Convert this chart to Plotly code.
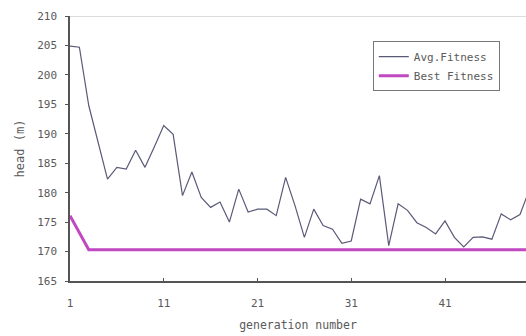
import plotly.graph_objects as go

generations = list(range(1, 51))
avg_fitness = [
    204.9, 204.7, 194.8, 188.3, 182.3, 184.3, 184.0, 187.2, 184.3, 187.8,
    191.4, 189.9, 179.5, 183.5, 179.2, 177.5, 178.4, 175.0, 180.6, 176.7,
    177.2, 177.2, 176.1, 182.6, 177.8, 172.4, 177.2, 174.4, 173.8, 171.4,
    171.8, 178.9, 178.1, 182.9, 171.0, 178.1, 177.0, 174.9, 174.1, 173.0,
    175.2, 172.4, 170.8, 172.4, 172.5, 172.1, 176.4, 175.4, 176.3, 180.5,
]
best_fitness = [176.1, 173.2] + [170.3] * 48

y_ticks = [165, 170, 175, 180, 185, 190, 195, 200, 205, 210]
x_ticks = [1, 11, 21, 31, 41]

FONT = "DejaVu Sans Mono"
TXT = "#5a5a5a"

fig = go.Figure()
fig.add_trace(go.Scatter(
    x=generations, y=avg_fitness, mode="lines", name="Avg.Fitness",
    line=dict(color="#5a5a78", width=1.2),
))
fig.add_trace(go.Scatter(
    x=generations, y=best_fitness, mode="lines", name="Best Fitness",
    line=dict(color="#c048c0", width=3),
))
fig.add_hline(y=210, line=dict(color="#cfcfcf", width=1.5))

fig.update_layout(
    width=526, height=336,
    margin=dict(l=70, r=0, t=16, b=55, autoexpand=False),
    paper_bgcolor="white", plot_bgcolor="white",
    font=dict(family=FONT, size=11, color=TXT),
    showlegend=True,
    legend=dict(
        x=0.664, y=0.905, xanchor="left", yanchor="top",
        bgcolor="white", bordercolor="#777777", borderwidth=1,
        font=dict(size=11, color=TXT, family=FONT),
        itemwidth=30, tracegroupgap=0,
    ),
    xaxis=dict(
        range=[1, 49.64], tickvals=x_ticks, ticktext=[str(v) for v in x_ticks],
        showgrid=False, zeroline=False, showline=True, linecolor="#555555",
        linewidth=1.5, ticks="inside", ticklen=3, tickcolor="#555555",
        ticklabelstandoff=11,
        title=dict(text="generation number", font=dict(size=11.5, color=TXT), standoff=12),
    ),
    yaxis=dict(
        range=[165, 210], tickvals=y_ticks, ticktext=[str(v) for v in y_ticks],
        showgrid=False, zeroline=False, showline=True, linecolor="#555555",
        linewidth=1.5, ticks="outside", ticklen=3, tickcolor="#555555",
        ticklabelstandoff=6,
        title=dict(text="head (m)", font=dict(size=12, color=TXT), standoff=10),
    ),
)

fig.write_html(
    "out.html",
    config={"displayModeBar": False},
    post_script="document.body.style.margin='0';document.body.style.overflow='hidden';",
)
